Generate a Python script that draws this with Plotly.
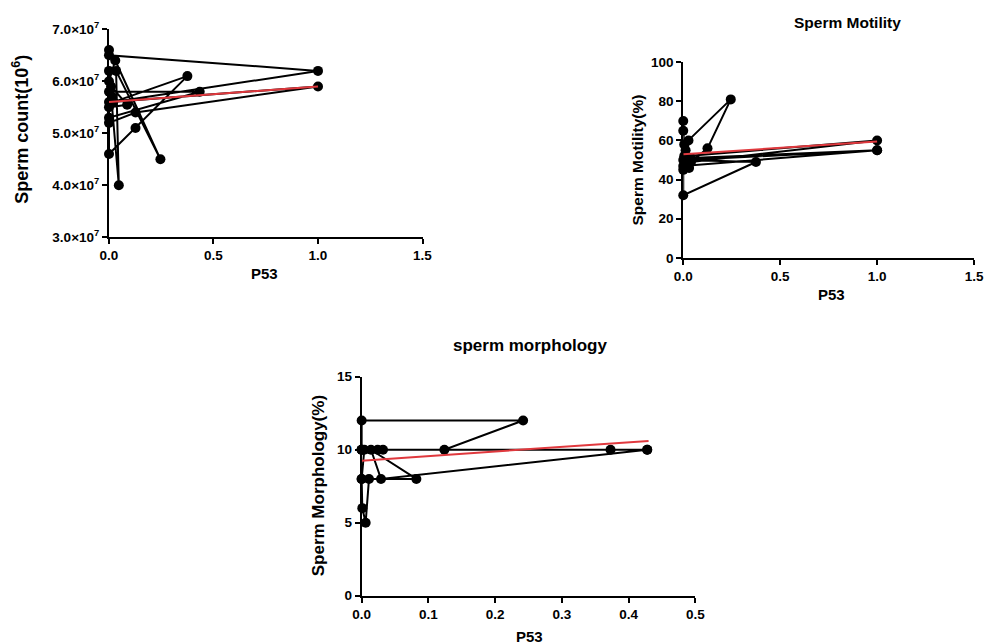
import plotly.graph_objects as go

W, H = 993, 644

# ---------------- data ----------------
count_p53 = [0.000, 0.000, 1.000, 0.020, 0.375, 0.127, 0.000, 0.000, 0.127, 1.000,
             0.000, 0.000, 0.434, 0.000, 0.000, 0.030, 0.246, 0.034, 0.047, 0.000,
             0.010, 0.087, 0.000, 0.015]
count_val = [6.6e7, 6.5e7, 6.2e7, 5.6e7, 6.1e7, 5.1e7, 4.6e7, 5.2e7, 5.4e7, 5.9e7,
             5.6e7, 5.8e7, 5.8e7, 5.3e7, 6.0e7, 6.4e7, 4.5e7, 6.2e7, 4.0e7, 6.2e7,
             5.9e7, 5.55e7, 5.5e7, 5.7e7]
count_fit_x = [0.0, 1.0]
count_fit_y = [5.6e7, 5.9e7]

motility_p53 = [0.000, 0.000, 0.005, 0.245, 0.125, 0.040, 1.000, 0.005, 0.000, 1.000,
                0.010, 0.375, 0.000, 0.000, 0.030, 0.020, 0.027, 0.012, 0.000, 0.040,
                1.000]
motility_val = [70, 65, 58, 81, 56, 49, 60, 52, 47, 55,
                50, 49, 32, 45, 46, 48, 60, 55, 50, 51,
                55]
motility_fit_x = [0.0, 1.0]
motility_fit_y = [53.0, 59.5]

morph_p53 = [0.000, 0.000, 0.242, 0.124, 0.000, 0.373, 0.428, 0.029, 0.014, 0.082,
             0.000, 0.011, 0.006, 0.001, 0.000, 0.004, 0.024, 0.032, 0.000, 0.428]
morph_val = [10, 12, 12, 10, 10, 10, 10, 8, 10, 8,
             8, 8, 5, 6, 8, 10, 10, 10, 10, 10]
morph_fit_x = [0.0, 0.43]
morph_fit_y = [9.25, 10.6]

count_yticks = [3e7, 4e7, 5e7, 6e7, 7e7]
count_yticktext = ["3.0×10<sup>7</sup>", "4.0×10<sup>7</sup>", "5.0×10<sup>7</sup>",
                   "6.0×10<sup>7</sup>", "7.0×10<sup>7</sup>"]
p53_ticks_wide = [0, 0.5, 1.0, 1.5]
p53_ticktext_wide = ["0.0", "0.5", "1.0", "1.5"]
motility_yticks = [0, 20, 40, 60, 80, 100]
morph_yticks = [0, 5, 10, 15]
p53_ticks_narrow = [0, 0.1, 0.2, 0.3, 0.4, 0.5]
p53_ticktext_narrow = ["0.0", "0.1", "0.2", "0.3", "0.4", "0.5"]

# ---------------- layout helpers ----------------
FONT = "Arial, 'Liberation Sans', sans-serif"

# screen pixel -> figure pixel (compensates the page offset/scale of the viewer)
OX, OY, SX, SY = 10.7, 16.7, 0.9937, 0.973


def fx(X):
    T = (X - 5.85) / 0.9861
    return (T - OX) / SX


def fy(Y):
    T = (Y - 2.6) / 0.9956
    return (T - OY) / SY


def xd(p0, p1):
    return [fx(p0) / W, fx(p1) / W]


def yd(top, bottom):
    return [1 - fy(bottom) / H, 1 - fy(top) / H]


def px(X):
    return fx(X) / W


def py(Y):
    return 1 - fy(Y) / H


fig = go.Figure()


def add_panel(xs, ys, fitx, fity, xa, ya):
    fig.add_trace(go.Scatter(
        x=xs, y=ys, mode="lines+markers", xaxis=xa, yaxis=ya,
        line=dict(color="black", width=2),
        marker=dict(color="black", size=10, symbol="circle"),
        cliponaxis=False, showlegend=False, hoverinfo="x+y"))
    fig.add_trace(go.Scatter(
        x=fitx, y=fity, mode="lines", xaxis=xa, yaxis=ya,
        line=dict(color="#e0393e", width=2),
        cliponaxis=False, showlegend=False, hoverinfo="skip"))


add_panel(count_p53, count_val, count_fit_x, count_fit_y, "x", "y")
add_panel(motility_p53, motility_val, motility_fit_x, motility_fit_y, "x2", "y2")
add_panel(morph_p53, morph_val, morph_fit_x, morph_fit_y, "x3", "y3")

axis_common = dict(showline=True, linecolor="black", linewidth=2, ticks="outside",
                   ticklen=5, tickwidth=2, tickcolor="black", showgrid=False,
                   zeroline=False, fixedrange=True,
                   tickfont=dict(family=FONT, size=13.5, color="black", weight="bold"))

fig.update_layout(
    width=W, height=H, margin=dict(l=0, r=0, t=0, b=0),
    paper_bgcolor="white", plot_bgcolor="white",
    font=dict(family=FONT, color="black"),
    xaxis=dict(domain=xd(108.3, 421.5), range=[0, 1.5], tickvals=p53_ticks_wide,
               ticktext=p53_ticktext_wide, anchor="y", **axis_common),
    yaxis=dict(domain=yd(30.5, 237.7), range=[3e7, 7e7], tickvals=count_yticks,
               ticktext=count_yticktext, anchor="x", **axis_common),
    xaxis2=dict(domain=xd(682.0, 972.5), range=[0, 1.5], tickvals=p53_ticks_wide,
                ticktext=p53_ticktext_wide, anchor="y2", **axis_common),
    yaxis2=dict(domain=yd(63.3, 258.3), range=[0, 100], tickvals=motility_yticks,
                anchor="x2", **axis_common),
    xaxis3=dict(domain=xd(360.7, 694.0), range=[0, 0.5], tickvals=p53_ticks_narrow,
                ticktext=p53_ticktext_narrow, anchor="y3", **axis_common),
    yaxis3=dict(domain=yd(376.7, 595), range=[0, 15], tickvals=morph_yticks,
                anchor="x3", **axis_common),
)


def ann(text, x, y, size=14, angle=0):
    fig.add_annotation(text=text, x=px(x), y=py(y), xref="paper", yref="paper",
                       showarrow=False, textangle=angle, xanchor="center", yanchor="middle",
                       font=dict(family=FONT, size=size, color="black", weight="bold"))


ann("P53", 264, 274, 15)
ann("Sperm count(10<sup>6</sup>)", 20, 130, 18, -90)
ann("P53", 830, 295, 15)
ann("Sperm Motility(%)", 636, 161, 15.5, -90)
ann("Sperm Motility", 846, 24, 15.5)
ann("P53", 528, 636, 15)
ann("Sperm Morphology(%)", 317, 485, 17, -90)
ann("sperm morphology", 529, 346, 17)

fig.write_html("out.html")
